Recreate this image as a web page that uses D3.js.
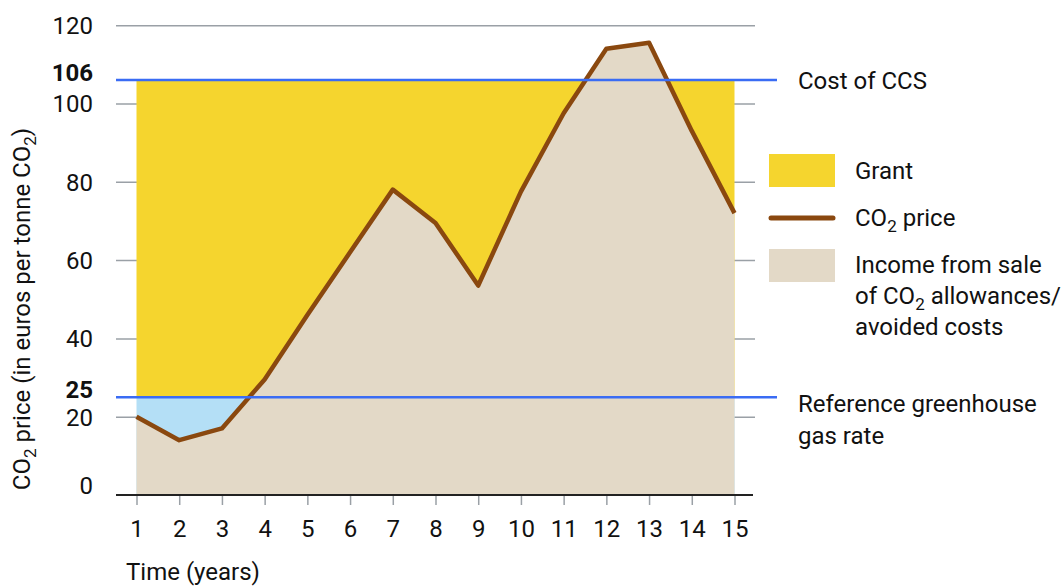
<!DOCTYPE html>
<html>
<head>
<meta charset="utf-8">
<script src="https://cdn.jsdelivr.net/npm/d3@7"></script>
<style>
  html, body { margin: 0; padding: 0; background: #fff; }
  svg { display: block; font-family: Roboto, "Noto Sans", sans-serif; }
</style>
</head>
<body>
<svg id="chart" width="1062" height="586"></svg>
<script>
// Years on the horizontal axis and the CO2 price for each year (euros per tonne)
const years = [1, 2, 3, 4, 5, 6, 7, 8, 9, 10, 11, 12, 13, 14, 15];
const co2Price = [20, 14, 17, 29.5, 46, 62, 78, 69.5, 53.5, 77.5, 97.5, 114, 115.5, 93, 72];

// Reference levels
const costOfCCS = 106;
const referenceRate = 25;

// Axis ticks
const yTicks = [0, 20, 40, 60, 80, 100, 120];
const yMarkers = [costOfCCS, referenceRate];

const colors = {
  grant: "#F5D52E",
  shortfall: "#B4DFF6",
  income: "#E3D9C7",
  line: "#8A480F",
  marker: "#3A6CF4",
  grid: "#9aa0a6",
  axis: "#222"
};

const FS = 24;      // base font size
const SUB = 17;     // subscript size
const SUBDY = 6;    // subscript drop

const svg = d3.select("#chart");

const x = d3.scaleLinear().domain([1, 15]).range([136.5, 734.5]);
const y = d3.scaleLinear().domain([0, 120]).range([495, 25.2]);

const plotLeft = 116, gridRight = 755, markerRight = 777;
const labelRight = 93;

// Horizontal gridlines with labels on the left
const yAxis = d3.axisLeft(y)
  .tickValues(yTicks.filter(v => v > 0))
  .tickSize(gridRight - plotLeft)
  .tickFormat(d3.format("d"));

const gy = svg.append("g")
  .attr("transform", `translate(${gridRight},0)`)
  .call(yAxis);
gy.select(".domain").remove();
gy.selectAll(".tick line").attr("stroke", colors.grid).attr("stroke-width", 1.5);
gy.selectAll(".tick text")
  .attr("x", labelRight - gridRight)
  .attr("fill", "#111")
  .attr("font-size", FS)
  .attr("font-family", "Roboto, sans-serif")
  .attr("dy", "0.35em");

// Zero label sits on the baseline
svg.append("text")
  .attr("x", labelRight).attr("y", y(0) - 1)
  .attr("text-anchor", "end")
  .attr("font-size", FS).attr("fill", "#111")
  .text(d3.format("d")(yTicks[0]));

// Grant band between the reference rate and the cost of CCS
svg.append("rect")
  .attr("x", x(1)).attr("width", x(15) - x(1))
  .attr("y", y(costOfCCS)).attr("height", y(referenceRate) - y(costOfCCS))
  .attr("fill", colors.grant);

// Band below the reference rate
svg.append("rect")
  .attr("x", x(1)).attr("width", x(15) - x(1))
  .attr("y", y(referenceRate)).attr("height", y(0) - y(referenceRate))
  .attr("fill", colors.shortfall);

const points = years.map((yr, i) => ({ yr, v: co2Price[i] }));

// Income area under the price curve
const area = d3.area()
  .x(d => x(d.yr))
  .y0(y(0))
  .y1(d => y(d.v));
svg.append("path")
  .datum(points)
  .attr("d", area)
  .attr("fill", colors.income);

// Bottom axis
const xAxis = d3.axisBottom(x)
  .tickValues(years)
  .tickSize(10)
  .tickPadding(15)
  .tickFormat(d3.format("d"));
const gx = svg.append("g")
  .attr("transform", `translate(0,${y(0)})`)
  .call(xAxis);
gx.select(".domain").remove();
gx.selectAll(".tick line").attr("stroke", colors.grid).attr("stroke-width", 1.5);
gx.selectAll(".tick text")
  .attr("fill", "#111")
  .attr("font-size", FS)
  .attr("font-family", "Roboto, sans-serif");

svg.append("line")
  .attr("x1", plotLeft).attr("x2", 753)
  .attr("y1", y(0)).attr("y2", y(0))
  .attr("stroke", colors.axis).attr("stroke-width", 2);

// Price line
const line = d3.line().x(d => x(d.yr)).y(d => y(d.v));
svg.append("path")
  .datum(points)
  .attr("d", line)
  .attr("fill", "none")
  .attr("stroke", colors.line)
  .attr("stroke-width", 4.5)
  .attr("stroke-linejoin", "round")
  .attr("stroke-linecap", "butt");

// Reference level lines with bold value labels
yMarkers.forEach(v => {
  svg.append("line")
    .attr("x1", plotLeft).attr("x2", markerRight)
    .attr("y1", y(v)).attr("y2", y(v))
    .attr("stroke", colors.marker).attr("stroke-width", 2.5);
  svg.append("text")
    .attr("x", labelRight).attr("y", y(v) + 1)
    .attr("text-anchor", "end")
    .attr("font-size", FS).attr("font-weight", "bold").attr("fill", "#111")
    .text(v);
});

svg.append("text")
  .attr("x", 798).attr("y", y(costOfCCS) + 1).attr("dy", "0.35em")
  .attr("font-size", FS).attr("fill", "#111")
  .text("Cost of CCS");

const refLabel = svg.append("text")
  .attr("x", 798).attr("y", y(referenceRate) + 6).attr("dy", "0.35em")
  .attr("font-size", FS).attr("fill", "#111");
refLabel.append("tspan").attr("x", 798).text("Reference greenhouse");
refLabel.append("tspan").attr("x", 798).attr("dy", 32).text("gas rate");

// Helper for text with a subscript "2" after CO
function co2(sel, before, after) {
  if (before) sel.append("tspan").text(before);
  sel.append("tspan").text("CO");
  sel.append("tspan").attr("font-size", SUB).attr("dy", SUBDY).text("2");
  sel.append("tspan").attr("dy", -SUBDY).text(after);
}

// Legend
const legend = svg.append("g");
legend.append("rect").attr("x", 769).attr("y", 154).attr("width", 66).attr("height", 33).attr("fill", colors.grant);
legend.append("text").attr("x", 855).attr("y", 170.5).attr("dy", "0.35em")
  .attr("font-size", FS).attr("fill", "#111").text("Grant");

legend.append("line").attr("x1", 771).attr("x2", 833).attr("y1", 218).attr("y2", 218)
  .attr("stroke", colors.line).attr("stroke-width", 5).attr("stroke-linecap", "round");
const lt = legend.append("text").attr("x", 855).attr("y", 218).attr("dy", "0.35em")
  .attr("font-size", FS).attr("fill", "#111");
co2(lt, null, " price");

legend.append("rect").attr("x", 769).attr("y", 249).attr("width", 66).attr("height", 33).attr("fill", colors.income);
legend.append("text").attr("x", 855).attr("y", 265).attr("dy", "0.35em")
  .attr("font-size", FS).attr("fill", "#111").text("Income from sale");
const l2 = legend.append("text").attr("x", 855).attr("y", 296).attr("dy", "0.35em")
  .attr("font-size", FS).attr("fill", "#111");
co2(l2, "of ", " allowances/");
legend.append("text").attr("x", 855).attr("y", 327).attr("dy", "0.35em")
  .attr("font-size", FS).attr("fill", "#111").text("avoided costs");

// Axis titles
svg.append("text")
  .attr("x", 126).attr("y", 580)
  .attr("font-size", FS).attr("fill", "#111")
  .text("Time (years)");

const yt = svg.append("text")
  .attr("transform", "translate(22,309) rotate(-90)")
  .attr("text-anchor", "middle").attr("dy", "0.35em")
  .attr("font-size", FS).attr("fill", "#111");
co2(yt, null, " price (in euros per tonne ");
yt.append("tspan").text("CO");
yt.append("tspan").attr("font-size", SUB).attr("dy", SUBDY).text("2");
yt.append("tspan").attr("dy", -SUBDY).text(")");
</script>
</body>
</html>
